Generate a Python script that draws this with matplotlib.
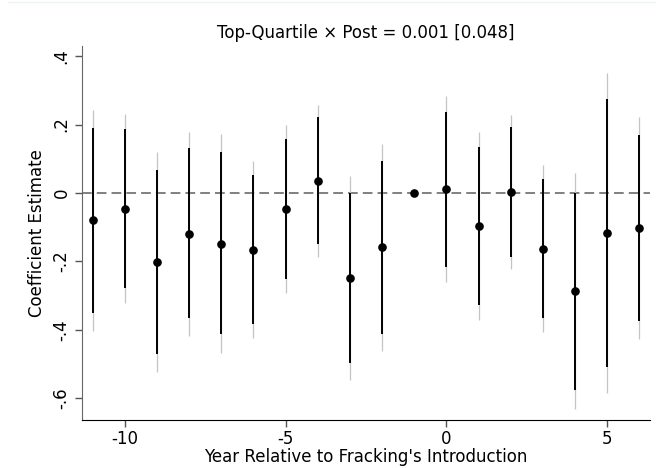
import numpy as np
import matplotlib.pyplot as plt
from matplotlib.lines import Line2D

plt.rcParams['axes.unicode_minus'] = False

# event-time coefficients (reference year -1 normalised to zero)
years = [-11, -10, -9, -8, -7, -6, -5, -4, -3, -2, -1, 0, 1, 2, 3, 4, 5, 6]
coef = [-0.080, -0.046, -0.203, -0.120, -0.148, -0.167, -0.047, 0.036, -0.249,
        -0.159, 0.000, 0.011, -0.096, 0.003, -0.163, -0.288, -0.118, -0.102]
# inner interval (black)
ci_lo = [-0.350, -0.277, -0.472, -0.367, -0.414, -0.383, -0.252, -0.150, -0.497,
         -0.412, np.nan, -0.216, -0.328, -0.188, -0.367, -0.577, -0.510, -0.374]
ci_hi = [0.189, 0.186, 0.067, 0.130, 0.121, 0.052, 0.159, 0.222, 0.000,
         0.094, np.nan, 0.238, 0.135, 0.193, 0.041, 0.000, 0.275, 0.169]
# outer interval (gray)
ci2_lo = [-0.403, -0.323, -0.525, -0.417, -0.467, -0.425, -0.293, -0.187, -0.547,
          -0.461, np.nan, -0.260, -0.371, -0.223, -0.407, -0.633, -0.586, -0.426]
ci2_hi = [0.243, 0.231, 0.120, 0.177, 0.173, 0.094, 0.199, 0.258, 0.050,
          0.143, np.nan, 0.282, 0.178, 0.229, 0.082, 0.058, 0.350, 0.221]

yticks = [-0.6, -0.4, -0.2, 0, 0.2, 0.4]
ytick_labels = ["-.6", "-.4", "-.2", "0", ".2", ".4"]
xticks = [-10, -5, 0, 5]

fig = plt.figure(figsize=(6.56, 4.68), dpi=100)
ax = fig.add_axes([0.1245, 0.1026, 0.8665, 0.7994])

ax.axhline(0, color="#808080", lw=1.4, ls=(0, (5, 2.6)), zorder=1)
ax.vlines(years, ci2_lo, ci2_hi, color="#c4c4c4", lw=0.9, zorder=2)
ax.vlines(years, ci_lo, ci_hi, color="black", lw=1.4, zorder=3)
ax.plot(years, coef, "o", color="black", ms=5.2, zorder=4)

ax.set_xlim(-11.34, 6.33)
ax.set_ylim(-0.664, 0.43)
ax.set_xticks(xticks)
ax.set_yticks(yticks)
ax.set_yticklabels(ytick_labels, rotation=90, va="center")
ax.tick_params(axis="both", labelsize=12, length=5, width=1, color="#555555")
ax.tick_params(axis="y", pad=3)
ax.tick_params(axis="x", pad=2)

for s in ["top", "right"]:
    ax.spines[s].set_visible(False)
ax.spines["left"].set_color("#666666")
ax.spines["bottom"].set_color("black")

ax.set_xlabel("Year Relative to Fracking's Introduction", fontsize=12, labelpad=0)
ax.set_ylabel("Coefficient Estimate", fontsize=12, labelpad=5)

ax.set_title("Top-Quartile \u00d7 Post = 0.001 [0.048]", fontsize=12, pad=6)

# faint border line at the very top
fig.add_artist(Line2D([8 / 656, 1], [1 - 2 / 468, 1 - 2 / 468],
                      transform=fig.transFigure, color="#eef3f3", lw=1))

fig.savefig("out.png", dpi=100)
